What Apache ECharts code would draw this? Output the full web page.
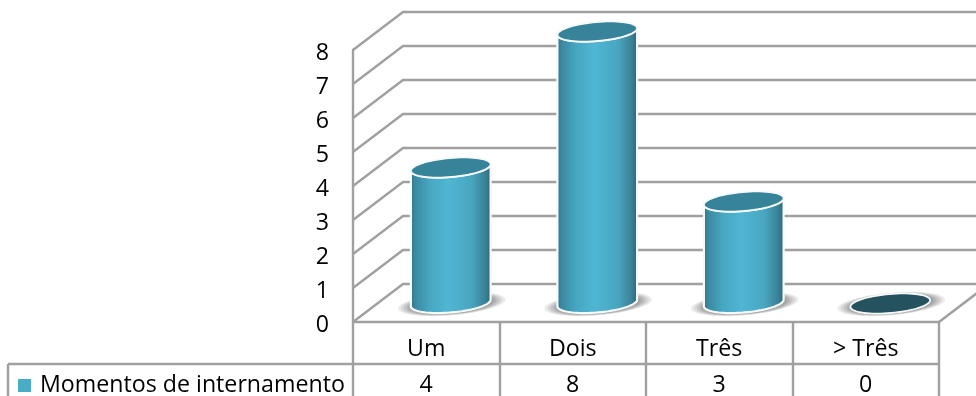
<!DOCTYPE html>
<html>
<head>
<meta charset="utf-8">
<style>html,body{margin:0;padding:0;background:#fff}#c{width:976px;height:396px}</style>
<script src="https://cdn.jsdelivr.net/npm/echarts@6/dist/echarts.min.js"></script>
</head>
<body>
<div id="c"></div>
<script>
const categories = ['Um', 'Dois', 'Três', '> Três'];
const values = [4, 8, 3, 0];
const yTicks = [0, 1, 2, 3, 4, 5, 6, 7, 8];
const seriesName = 'Momentos de internamento';

const FONT = 'Open Sans';
const FS = 23.2;
const GRID = '#a0a0a0';
const GRID_W = 2.4;
const DEPTH_X = 50, DEPTH_Y = 38;

function ellipsePts(cx, cy, a, b, rotDeg, from, to, n) {
  const r = rotDeg * Math.PI / 180, pts = [];
  for (let i = 0; i <= n; i++) {
    const t = (from + (to - from) * i / n) * Math.PI / 180;
    const x = a * Math.cos(t), y = b * Math.sin(t);
    pts.push([cx + x * Math.cos(r) - y * Math.sin(r), cy + x * Math.sin(r) + y * Math.cos(r)]);
  }
  return pts;
}

const chart = echarts.init(document.getElementById('c'), null, { renderer: 'canvas' });
chart.setOption({
  animation: false,
  backgroundColor: '#fff',
  textStyle: { fontFamily: FONT },
  legend: {
    left: 18, top: 374, padding: 0, itemWidth: 13, itemHeight: 13, icon: 'rect',
    selectedMode: false,
    data: [{ name: seriesName, itemStyle: { color: '#4bacc6' } }],
    textStyle: { fontFamily: FONT, fontSize: FS, color: '#000', padding: [0, 0, 0, 4] }
  },
  grid: { left: 353, right: 37, top: 50, bottom: 74 },
  xAxis: {
    type: 'category', data: categories,
    axisLine: { lineStyle: { color: GRID, width: GRID_W } },
    axisTick: { show: true, length: 74, lineStyle: { color: GRID, width: GRID_W } },
    axisLabel: { fontFamily: FONT, fontSize: FS, color: '#000', margin: 16 },
    splitLine: { show: false }
  },
  yAxis: {
    type: 'value', min: 0, max: 8, interval: 1,
    axisLine: { show: true, lineStyle: { color: GRID, width: GRID_W } },
    axisTick: { show: false },
    splitLine: { show: false },
    axisLabel: { fontFamily: FONT, fontSize: FS, color: '#000', margin: 24, verticalAlign: 'top', lineHeight: 6 }
  },
  graphic: [
    { type: 'line', z: 5, shape: { x1: 8, y1: 364, x2: 939, y2: 364 }, style: { stroke: GRID, lineWidth: GRID_W } },
    { type: 'line', z: 5, shape: { x1: 8, y1: 364, x2: 8, y2: 396 }, style: { stroke: GRID, lineWidth: GRID_W } }
  ],
  series: [
    {
      type: 'custom', name: 'walls', coordinateSystem: 'cartesian2d', silent: true, z: 1,
      encode: { x: 0, y: 1 },
      data: yTicks.map(v => [0, v]),
      renderItem(params, api) {
        const y = api.coord([0, api.value(1)])[1];
        const left = params.coordSys.x, right = params.coordSys.x + params.coordSys.width;
        const kids = [{
          type: 'polyline',
          shape: { points: [[left, y], [left + DEPTH_X, y - DEPTH_Y], [976, y - DEPTH_Y]] },
          style: { stroke: GRID, lineWidth: GRID_W, fill: 'none' }
        }];
        if (api.value(1) === 0) kids.push({
          type: 'line',
          shape: { x1: right, y1: y, x2: right + DEPTH_X, y2: y - DEPTH_Y },
          style: { stroke: GRID, lineWidth: GRID_W }
        });
        return { type: 'group', children: kids };
      }
    },
    {
      type: 'custom', name: seriesName, coordinateSystem: 'cartesian2d', silent: true, z: 3,
      encode: { x: 0, y: 1 },
      data: values.map((v, i) => [i, v]),
      renderItem(params, api) {
        const i = api.value(0), v = api.value(1);
        const p = api.coord([i, v]), p0 = api.coord([i, 0]);
        const cx = p[0] + DEPTH_X / 2 - 0.5;
        const topY = p[1] - DEPTH_Y / 2 + 0.5, baseY = p0[1] - DEPTH_Y / 2;
        const a = 40, b = 9.5, rot = -5;
        const kids = [];
        // soft ground shadow built from stacked translucent ellipses
        [14, 11, 8, 5, 2].forEach((grow, k) => {
          kids.push({
            type: 'polygon',
            shape: { points: ellipsePts(cx + 1, baseY + 1, a + grow, b + grow / 8, rot, 0, 360, 72) },
            style: { fill: '#6e6e6e', opacity: 0.13 + k * 0.03 }
          });
        });
        if (v > 0) {
          kids.push({
            type: 'polygon',
            shape: { points: ellipsePts(cx, baseY, a, b, rot, 0, 180, 36).concat(ellipsePts(cx, topY, a, b, rot, 180, 0, 36)) },
            style: {
              stroke: '#f6f9fa', lineWidth: 2.2,
              fill: new echarts.graphic.LinearGradient(0, 0, 1, 0, [
                { offset: 0, color: '#2f6b7e' }, { offset: 0.06, color: '#3a889f' },
                { offset: 0.25, color: '#48a8c3' }, { offset: 0.47, color: '#4fb6d3' },
                { offset: 0.75, color: '#49a6c0' }, { offset: 0.92, color: '#3a8197' },
                { offset: 1, color: '#2a6374' }
              ])
            }
          });
          kids.push({
            type: 'polygon',
            shape: { points: ellipsePts(cx, topY, a, b, rot, 0, 360, 72) },
            style: { fill: '#37839a', stroke: '#f6f9fa', lineWidth: 1.8 }
          });
        } else {
          kids.push({
            type: 'polygon',
            shape: { points: ellipsePts(cx, topY, a, b, rot, 0, 360, 72) },
            style: { fill: '#24525f', stroke: '#f6f9fa', lineWidth: 1.8 }
          });
        }
        return { type: 'group', children: kids };
      }
    },
    {
      type: 'custom', name: 'table', coordinateSystem: 'cartesian2d', silent: true, z: 4,
      encode: { x: 0, y: 1 },
      data: values.map((v, i) => [i, v]),
      renderItem(params, api) {
        const p = api.coord([api.value(0), 0]);
        return {
          type: 'text',
          style: {
            x: p[0], y: p[1] + 63, text: String(api.value(1)),
            fontFamily: FONT, fontSize: FS, fill: '#000', align: 'center', verticalAlign: 'middle'
          }
        };
      }
    }
  ]
});
</script>
</body>
</html>
